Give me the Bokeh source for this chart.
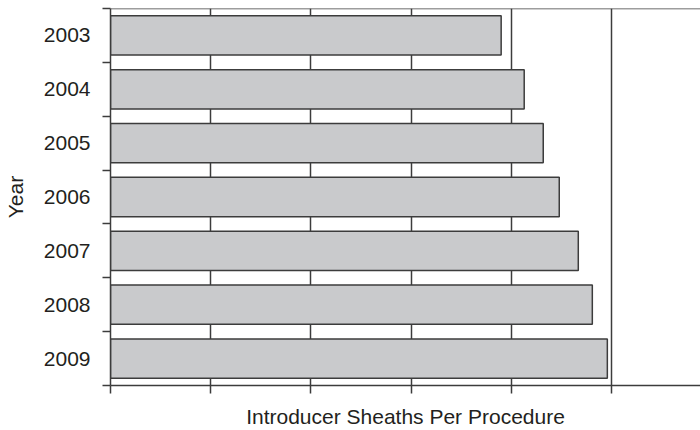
from bokeh.plotting import figure
from bokeh.models import Range1d, FixedTicker, Span
from bokeh.embed import file_html
from bokeh.resources import INLINE

years = ["2003", "2004", "2005", "2006", "2007", "2008", "2009"]
values = [3.90, 4.13, 4.32, 4.48, 4.67, 4.81, 4.96]
x_ticks = [0, 1, 2, 3, 4, 5]

pos = list(range(len(years)))
bounds = [i - 0.5 for i in range(len(years) + 1)]

FONT = "Liberation Sans"
TXT = "#231f20"
LINE = "#3c3c3c"

p = figure(width=700, height=430, output_backend="svg", toolbar_location=None,
           x_range=Range1d(0, 5.89), y_range=Range1d(len(years) - 0.5, -0.5),
           min_border_left=103, min_border_right=0, min_border_top=8, min_border_bottom=0)
p.outline_line_color = None
p.background_fill_color = "white"
p.border_fill_color = "white"

p.hbar(y=pos, right=values, left=0, height=0.73, fill_color="#c9cacc",
       line_color=LINE, line_width=1.5)

# x axis: ticks drawn as minor ticks, no labels
p.xaxis.ticker = FixedTicker(ticks=[], minor_ticks=x_ticks)
p.xaxis.major_tick_line_color = None
p.xaxis.major_tick_out = 0
p.xaxis.major_tick_in = 0
p.xaxis.major_label_standoff = 0
p.xaxis.minor_tick_out = 8
p.xaxis.minor_tick_in = 0
p.xaxis.minor_tick_line_color = LINE
p.xaxis.minor_tick_line_width = 1.5
p.xaxis.axis_line_color = LINE
p.xaxis.axis_line_width = 1.5
p.xaxis.axis_label = "Introducer Sheaths Per Procedure"
p.xaxis.axis_label_text_font = FONT
p.xaxis.axis_label_text_font_style = "normal"
p.xaxis.axis_label_text_font_size = "21px"
p.xaxis.axis_label_text_color = TXT
p.xaxis.axis_label_standoff = 11

# y axis
p.yaxis.ticker = FixedTicker(ticks=pos, minor_ticks=bounds)
p.yaxis.major_label_overrides = {i: y for i, y in zip(pos, years)}
p.yaxis.major_tick_line_color = None
p.yaxis.major_tick_out = 0
p.yaxis.major_tick_in = 0
p.yaxis.minor_tick_out = 8
p.yaxis.minor_tick_in = 0
p.yaxis.minor_tick_line_color = LINE
p.yaxis.minor_tick_line_width = 1.5
p.yaxis.axis_line_color = LINE
p.yaxis.axis_line_width = 1.5
p.yaxis.major_label_standoff = 12
p.yaxis.major_label_text_font = FONT
p.yaxis.major_label_text_font_size = "21px"
p.yaxis.major_label_text_color = TXT
p.yaxis.axis_label = "Year"
p.yaxis.axis_label_text_font = FONT
p.yaxis.axis_label_text_font_style = "normal"
p.yaxis.axis_label_text_font_size = "21px"
p.yaxis.axis_label_text_color = TXT
p.yaxis.axis_label_standoff = 14

p.xgrid.ticker = FixedTicker(ticks=x_ticks)
p.xgrid.grid_line_color = LINE
p.xgrid.grid_line_width = 1.5
p.xgrid.grid_line_alpha = 1
p.ygrid.grid_line_color = None

top = Span(location=-0.5, dimension="width", line_color=LINE, line_width=1.5)
p.add_layout(top)

open("out.html", "w").write(file_html(p, INLINE))
